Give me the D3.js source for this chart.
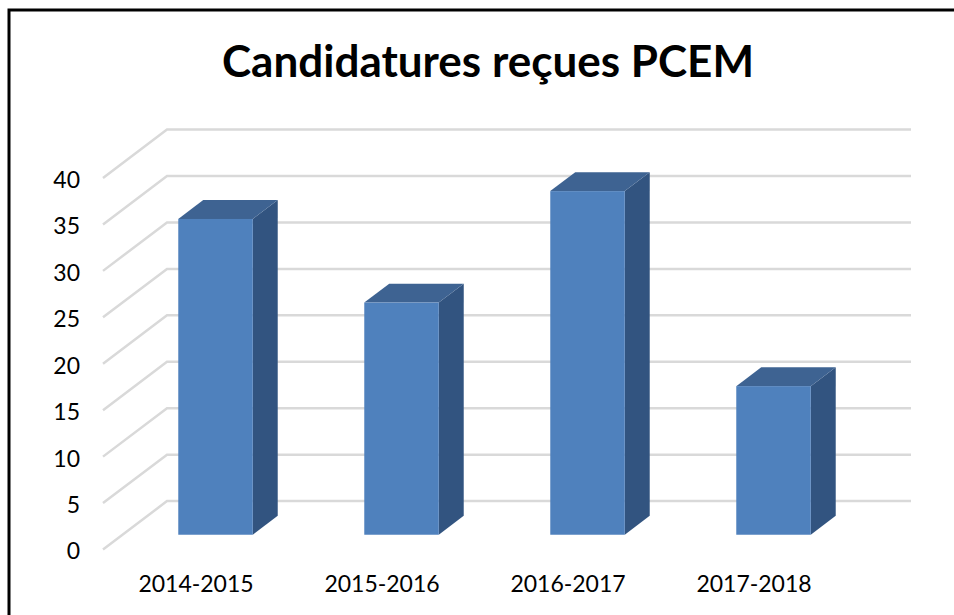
<!DOCTYPE html>
<html>
<head>
<meta charset="utf-8">
<script src="https://cdn.jsdelivr.net/npm/d3@7"></script>
<style>
  html, body { margin: 0; padding: 0; background: #fff; }
  svg { display: block; }
  text { font-family: Lato, "Open Sans", sans-serif; fill: #000; }
</style>
</head>
<body>
<div id="chart"></div>
<script>
const years = ["2014-2015", "2015-2016", "2016-2017", "2017-2018"];
const applications = [34, 25, 37, 16];
const yTicks = [0, 5, 10, 15, 20, 25, 30, 35, 40];
const chartTitle = "Candidatures reçues PCEM";

const width = 954, height = 615;

const svg = d3.select("#chart").append("svg")
    .attr("width", width)
    .attr("height", height);

// scales on the front plane of the 3D box
const xScale = d3.scaleBand().domain(years).range([103, 847]);
const yScale = d3.scaleLinear().domain([0, 40]).range([549.5, 178]);

// how far the back wall sits from the front plane
const depthX = 64, depthY = -48.4;
// the bars take the middle part of the depth
const barDepthStart = 0.305, barDepthEnd = 0.695;
const barWidth = 74.5;

// outer frame, right and bottom are cut off in the picture
svg.append("path")
    .attr("d", "M9," + height + "V10H" + width)
    .attr("fill", "none")
    .attr("stroke", "#000")
    .attr("stroke-width", 3);

svg.append("text")
    .attr("x", 488)
    .attr("y", 77)
    .attr("text-anchor", "middle")
    .attr("font-size", 44)
    .attr("font-weight", 700)
    .text(chartTitle);

// gridlines: slanted part on the floor side, then along the back wall
svg.selectAll(".grid")
    .data(yTicks)
    .enter()
  .append("path")
    .attr("class", "grid")
    .attr("fill", "none")
    .attr("stroke", "#d9d9d9")
    .attr("stroke-width", 2.5)
    .attr("d", d => {
        const x0 = xScale.range()[0], y0 = yScale(d);
        return "M" + x0 + "," + y0 + "L" + (x0 + depthX) + "," + (y0 + depthY) + "H" + (xScale.range()[1] + depthX);
    });

const yAxis = d3.axisLeft(yScale).tickValues(yTicks).tickSize(0).tickPadding(0);
const yAxisG = svg.append("g")
    .attr("transform", "translate(80,2)")
    .call(yAxis);
yAxisG.select(".domain").remove();
yAxisG.selectAll("text").attr("font-size", 23);

const xAxis = d3.axisBottom(xScale).tickSize(0).tickPadding(0);
const xAxisG = svg.append("g")
    .attr("transform", "translate(0,576)")
    .call(xAxis);
xAxisG.select(".domain").remove();
xAxisG.selectAll("text").attr("font-size", 23);
yAxisG.selectAll("text").style("font-family", "Lato");
xAxisG.selectAll("text").style("font-family", "Lato");

// bars
const bars = svg.selectAll(".bar")
    .data(years.map((y, i) => ({year: y, value: applications[i]})))
    .enter()
  .append("g")
    .attr("class", "bar");

function barGeom(d) {
    const cx = xScale(d.year) + xScale.bandwidth() / 2;
    const left = cx - barWidth / 2 + depthX * barDepthStart;
    const right = left + barWidth;
    const bottom = yScale(0) + depthY * barDepthStart;
    const top = yScale(d.value) + depthY * barDepthStart;
    const dx = depthX * (barDepthEnd - barDepthStart);
    const dy = depthY * (barDepthEnd - barDepthStart);
    return {left, right, bottom, top, dx, dy};
}

// side
bars.append("path")
    .attr("fill", "#325480")
    .attr("d", d => {
        const g = barGeom(d);
        return "M" + g.right + "," + g.top + "l" + g.dx + "," + g.dy + "V" + (g.bottom + g.dy) + "L" + g.right + "," + g.bottom + "Z";
    });

// top
bars.append("path")
    .attr("fill", "#3e6392")
    .attr("d", d => {
        const g = barGeom(d);
        return "M" + g.left + "," + g.top + "l" + g.dx + "," + g.dy + "H" + (g.right + g.dx) + "L" + g.right + "," + g.top + "Z";
    });

// front
bars.append("rect")
    .attr("fill", "#4f81bd")
    .attr("x", d => barGeom(d).left)
    .attr("y", d => barGeom(d).top)
    .attr("width", barWidth)
    .attr("height", d => barGeom(d).bottom - barGeom(d).top);
</script>
</body>
</html>
